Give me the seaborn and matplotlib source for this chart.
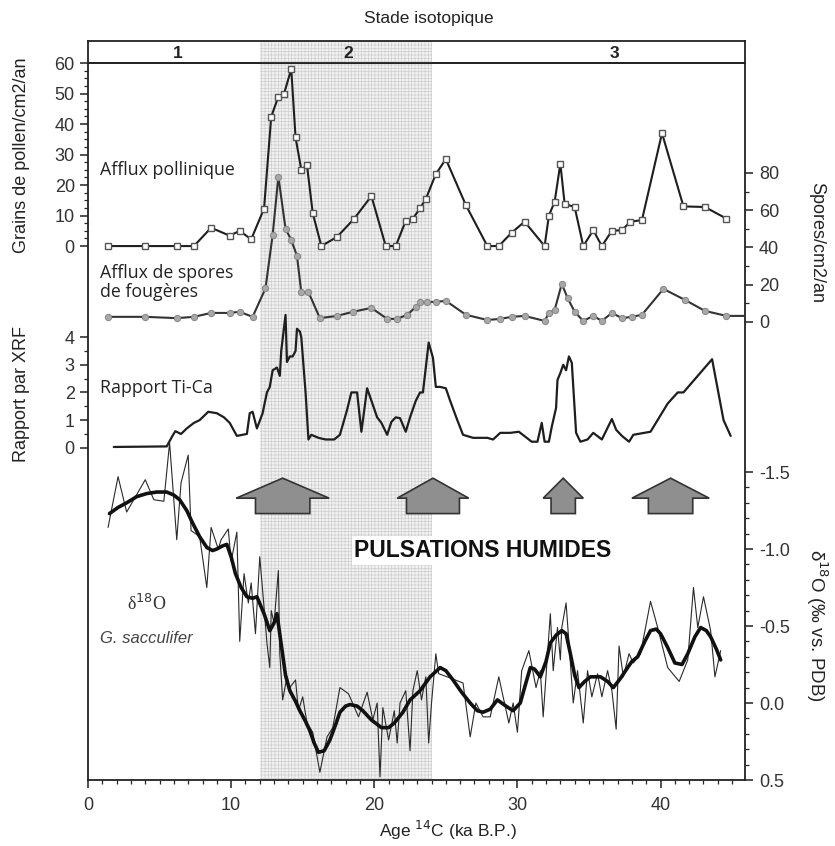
import numpy as np
import matplotlib
matplotlib.use('Agg')
import matplotlib.pyplot as plt
from matplotlib.patches import Polygon
from matplotlib.ticker import FixedLocator
import seaborn as sns

# ---- data ----
pollen_age = [1.4, 4.0, 6.2, 7.4, 8.6, 9.9, 10.6, 11.4, 12.3, 12.8, 13.3, 13.7, 14.2, 14.5,
              14.9, 15.3, 15.7, 16.3, 17.4, 18.6, 19.8, 20.8, 21.5, 22.2, 22.7, 23.2, 23.6,
              24.3, 25.0, 26.4, 27.9, 28.7, 29.6, 30.5, 31.9, 32.2, 32.6, 33.0, 33.3, 34.0,
              34.6, 35.3, 35.9, 36.6, 37.3, 37.9, 38.7, 40.1, 41.6, 43.1, 44.6]
pollen_val = [0, 0, 0, 0, 6, 3.4, 5, 2.2, 12.3, 42.4, 49, 50, 58, 35.6,
              25, 26.5, 10.8, 0, 3, 9, 16.4, 0, 0, 8.3, 9, 12.4, 15.4,
              23.6, 28.5, 13.4, 0, 0, 4.4, 8, 0, 10, 14.5, 27, 13.8, 12.8,
              0, 5.2, 0, 5, 5.2, 8, 8.5, 37, 13, 12.8, 9]

spore_age = [1.4, 4.0, 6.2, 7.4, 8.6, 9.9, 10.6, 11.5, 12.4, 12.9, 13.3, 13.8, 14.2, 14.6,
             14.9, 15.4, 16.2, 17.4, 18.5, 19.8, 20.9, 21.6, 22.3, 22.9, 23.2, 23.7, 24.3,
             25.0, 26.4, 27.9, 28.8, 29.6, 30.5, 31.9, 32.2, 32.6, 33.1, 33.5, 34.0, 34.6,
             35.3, 35.9, 36.6, 37.3, 38.0, 38.7, 40.2, 41.7, 43.1, 44.6]
spore_val = [2.7, 2.7, 2, 2.7, 4.8, 4.8, 5.4, 2.7, 18, 46.7, 78, 50, 44, 35.4,
             16, 16, 2, 3.2, 5.4, 7.5, 1.6, 1.6, 3.8, 8, 10.7, 10.7, 10.7,
             11.3, 3.8, 1, 1.6, 2.7, 3.2, 0.5, 4.8, 6.4, 20.4, 12.9, 5.4, 0.5,
             3.2, 0.5, 4.8, 2, 2.7, 3.8, 17.7, 11.8, 5.9, 3.2]

tica_age = [1.8, 5.5, 5.9, 6.1, 6.5, 6.9, 7.4, 7.8, 8.4, 9.0, 9.5, 9.9, 10.4, 11.1, 11.3,
            11.5, 11.8, 12.2, 12.5, 12.7, 12.9, 13.2, 13.4, 13.5, 13.8, 13.9, 14.1, 14.3,
            14.5, 14.6, 14.8, 14.9, 15.2, 15.4, 15.6, 16.1, 16.6, 17.2, 17.6, 18.1, 18.4,
            18.8, 19.1, 19.5, 19.8, 20.2, 20.5, 20.9, 21.2, 21.5, 21.8, 22.2, 22.5, 22.9,
            23.2, 23.4, 23.8, 24.1, 24.3, 24.6, 25.0, 25.3, 25.8, 26.2, 26.9, 27.9, 28.3,
            28.8, 29.5, 30.1, 31.0, 31.4, 31.7, 31.9, 32.2, 32.4, 32.7, 32.8, 33.0, 33.2,
            33.4, 33.6, 33.8, 34.1, 34.4, 34.9, 35.3, 35.9, 36.6, 36.9, 37.3, 37.8, 38.1,
            39.3, 40.5, 41.2, 41.6, 43.6, 44.4, 44.9]
tica_val = [0.03, 0.05, 0.43, 0.6, 0.5, 0.7, 0.9, 1.0, 1.3, 1.25, 1.1, 0.9, 0.43, 0.5, 1.25,
            1.3, 0.7, 1.25, 2.0, 2.2, 2.8, 2.9, 2.6, 3.5, 4.8, 3.1, 3.3, 3.3,
            3.5, 4.3, 4.2, 4.0, 2.0, 0.3, 0.47, 0.36, 0.3, 0.3, 0.47, 1.37, 2.0,
            2.0, 0.58, 2.15, 1.7, 1.1, 0.9, 0.47, 0.94, 1.1, 1.07, 0.58, 1.1, 1.7,
            2.0, 2.0, 3.8, 3.25, 2.2, 2.2, 2.15, 1.7, 1.0, 0.47, 0.36, 0.36, 0.3,
            0.54, 0.54, 0.58, 0.22, 0.22, 0.9, 0.22, 0.22, 0.76, 1.44, 2.45, 2.7, 3.0,
            2.8, 3.3, 3.07, 0.54, 0.22, 0.3, 0.54, 0.3, 1.04, 0.65, 0.43, 0.22, 0.47,
            0.58, 1.6, 2.0, 2.0, 3.2, 1.0, 0.43]

d18o_age = [1.4, 2.1, 2.7, 4.0, 4.6, 5.3, 5.7, 6.2, 6.5, 7.0, 7.2, 7.8, 8.3, 8.6, 9.1, 9.3,
            9.8, 10.0, 10.4, 10.6, 10.9, 11.2, 11.4, 11.7, 12.0, 12.3, 12.5, 12.7, 12.8,
            13.0, 13.3, 13.4, 13.6, 13.9, 14.1, 14.5, 14.7, 15.0, 15.3, 15.7, 16.2, 16.7,
            17.1, 17.6, 18.2, 18.9, 19.5, 19.9, 20.2, 20.4, 20.6, 21.0, 21.4, 21.6, 21.8,
            22.2, 22.5, 22.7, 23.0, 23.3, 23.6, 23.8, 24.0, 24.3, 24.5, 25.1, 26.2, 26.7,
            27.1, 27.6, 28.1, 28.7, 29.4, 29.7, 30.0, 30.3, 30.8, 31.3, 31.6, 31.8, 32.3,
            32.5, 32.8, 33.0, 33.1, 33.4, 33.6, 33.9, 34.2, 34.6, 34.9, 35.2, 35.6, 35.9,
            36.3, 36.6, 36.9, 37.1, 37.4, 37.8, 38.1, 38.6, 39.3, 39.8, 40.5, 41.3, 41.9,
            42.3, 42.6, 43.0, 43.5, 43.8, 44.2]
d18o_raw = [-1.14, -1.47, -1.24, -1.45, -1.32, -1.31, -1.69, -1.06, -1.43, -1.61, -1.12, -1.08,
            -0.75, -1.14, -1.0, -1.06, -1.13, -0.92, -1.11, -0.40, -0.84, -0.65, -0.78, -0.45,
            -0.95, -0.62, -0.39, -0.23, -0.60, -0.52, -0.86, -0.32, -0.02, -0.17, -0.10, -0.15,
            0.05, -0.04, 0.13, 0.19, 0.45, 0.22, 0.16, -0.10, -0.06, 0.09, -0.07, 0.11, 0.0,
            0.48, 0.03, 0.24, 0.05, 0.26, 0.0, -0.08, 0.31, -0.08, -0.21, -0.02, -0.17, 0.26,
            0.0, -0.32, -0.19, -0.17, -0.13, 0.22, 0.0, 0.09, 0.09, -0.17, 0.13, 0.0, 0.19,
            -0.21, -0.34, -0.10, -0.21, 0.09, -0.58, -0.21, -0.49, -0.28, -0.49, -0.65, -0.39,
            0.0, -0.21, 0.13, -0.21, -0.04, -0.19, -0.04, -0.21, -0.08, 0.17, -0.37, -0.17,
            -0.32, -0.26, -0.32, -0.66, -0.49, -0.23, -0.14, -0.28, -0.75, -0.49, -0.69, -0.47,
            -0.17, -0.34]

smooth_age = [1.5, 2.1, 2.7, 3.4, 4.1, 4.8, 5.5, 6.0, 6.4, 6.9, 7.3, 7.8, 8.3, 8.7, 9.0, 9.4,
              9.7, 10.0, 10.3, 10.7, 11.1, 11.5, 11.8, 12.3, 12.7, 13.0, 13.2, 13.5, 13.8,
              14.1, 14.5, 14.8, 15.2, 15.5, 15.8, 16.1, 16.5, 16.9, 17.3, 17.6, 18.0, 18.3,
              18.8, 19.2, 19.8, 20.5, 21.0, 21.4, 22.0, 22.5, 23.2, 23.9, 24.6, 25.0, 25.5,
              26.1, 26.7, 27.2, 27.6, 28.1, 28.6, 29.2, 29.7, 30.2, 30.5, 30.9, 31.2, 31.6,
              32.0, 32.3, 32.7, 33.1, 33.4, 33.7, 34.0, 34.3, 34.7, 35.1, 35.8, 36.3, 36.7,
              37.2, 37.7, 38.0, 38.4, 38.9, 39.3, 39.7, 40.0, 40.5, 41.0, 41.5, 41.9, 42.4,
              42.8, 43.2, 43.5, 43.9, 44.2]
smooth_val = [-1.23, -1.27, -1.30, -1.34, -1.36, -1.37, -1.37, -1.35, -1.32, -1.25, -1.17,
              -1.08, -1.01, -0.99, -1.0, -1.02, -1.03, -0.95, -0.84, -0.75, -0.69, -0.68,
              -0.69, -0.58, -0.47, -0.52, -0.58, -0.38, -0.18, -0.08, -0.01, 0.05, 0.12,
              0.18, 0.26, 0.32, 0.31, 0.24, 0.14, 0.06, 0.02, 0.01, 0.02, 0.05, 0.11, 0.16,
              0.16, 0.13, 0.06, -0.02, -0.08, -0.17, -0.23, -0.21, -0.15, -0.07, 0.0, 0.05,
              0.06, 0.04, -0.02, 0.02, 0.05, 0.0, -0.10, -0.23, -0.22, -0.17, -0.27, -0.39,
              -0.44, -0.47, -0.45, -0.32, -0.18, -0.10, -0.14, -0.17, -0.17, -0.14, -0.10,
              -0.16, -0.23, -0.27, -0.30, -0.40, -0.47, -0.48, -0.45, -0.36, -0.26, -0.25,
              -0.32, -0.43, -0.49, -0.47, -0.43, -0.35, -0.28]

stage_labels = ['1', '2', '3']
stage_mid = [6.3, 18.2, 36.8]
humid_start, humid_end = 12, 24

# arrows: tip x, head half-width, shaft half-width (ka)
arrows = [(13.6, 3.25, 1.9), (24.1, 2.5, 1.85), (33.2, 1.4, 0.85), (40.7, 2.7, 1.55)]

# ---- figure ----
sns.set_theme(style='ticks')
plt.rcParams['font.family'] = ['Liberation Sans', 'DejaVu Sans']
plt.rcParams['hatch.linewidth'] = 0.5

W, H = 835, 846
fig = plt.figure(figsize=(W / 100, H / 100), dpi=100)
L, R, T, B = 88, 745, 63, 780
ax = fig.add_axes([L / W, 1 - B / H, (R - L) / W, (B - T) / H])
hdr = fig.add_axes([L / W, 1 - T / H, (R - L) / W, (T - 41) / H])

XMAX = 45.9
shade = dict(facecolor='#f1f1f1', hatch='+++++', edgecolor='#cfcfcf', linewidth=0, zorder=0)
ax.axvspan(humid_start, humid_end, **shade)
hdr.axvspan(humid_start, humid_end, **shade)

ax_ti = ax.twinx()
ax_sp = ax.twinx()
ax_d = ax.twinx()
for a in (ax, ax_ti, ax_sp, ax_d, hdr):
    a.set_xlim(0, XMAX)
    a.patch.set_visible(False)
for a in (ax_ti, ax_sp, ax_d):
    for s in a.spines.values():
        s.set_visible(False)
for s in ax.spines.values():
    s.set_linewidth(1.3)
    s.set_color('#222222')

ink = '#1e1e1e'
# pollen
sns.lineplot(x=pollen_age, y=pollen_val, ax=ax, sort=False, color=ink, lw=1.5, marker='s',
             markersize=4.5, markerfacecolor='white', markeredgecolor='#555555', markeredgewidth=1)
ax.set_ylim(-175, 60)
# spores
sns.lineplot(x=spore_age + [XMAX], y=spore_val + [spore_val[-1]], ax=ax_sp, sort=False, color='#333333',
             lw=1.5, marker='o', markersize=4.5, markerfacecolor='#a8a8a8', markeredgecolor='#888888',
             markevery=list(range(len(spore_age))))
ax_sp.set_ylim(-246, 139)
# Ti-Ca
sns.lineplot(x=tica_age, y=tica_val, ax=ax_ti, sort=False, color=ink, lw=1.6)
ax_ti.set_ylim(-12, 13.9)
# d18O
sns.lineplot(x=d18o_age, y=d18o_raw, ax=ax_d, sort=False, color='#2a2a2a', lw=0.8)
sns.lineplot(x=smooth_age, y=smooth_val, ax=ax_d, sort=False, color='#111111', lw=2.6)
ax_d.set_ylim(0.5, -4.156)
for a in (ax, ax_ti, ax_sp, ax_d):
    a.set_xlabel('')
    a.set_ylabel('')

# arrows
y_tip, y_head, y_bot = -1.46, -1.33, -1.23
for xc, hw, sw in arrows:
    pts = [(xc, y_tip), (xc + hw, y_head), (xc + sw, y_head), (xc + sw, y_bot),
           (xc - sw, y_bot), (xc - sw, y_head), (xc - hw, y_head)]
    ax_d.add_patch(Polygon(pts, closed=True, facecolor='#8f8f8f', edgecolor='#333333', lw=1.2, zorder=5))

# ticks
tick_kw = dict(labelsize=13, colors='#222222', labelcolor='#333333')
ax.set_yticks([0, 10, 20, 30, 40, 50, 60])
ax.yaxis.set_minor_locator(FixedLocator(np.arange(0, 61, 2.5)))
ax.tick_params(axis='y', which='major', length=6, width=1.1, **tick_kw)
ax.tick_params(axis='y', which='minor', length=3, width=0.9)

ax_ti.yaxis.tick_left()
ax_ti.set_yticks([0, 1, 2, 3, 4])
ax_ti.yaxis.set_minor_locator(FixedLocator(np.arange(0, 4.01, 0.5)))
ax_ti.tick_params(axis='y', which='major', length=6, width=1.1, **tick_kw)
ax_ti.tick_params(axis='y', which='minor', length=3, width=0.9)

ax_sp.set_yticks([0, 20, 40, 60, 80])
ax_sp.yaxis.set_minor_locator(FixedLocator(np.arange(0, 81, 10)))
ax_sp.tick_params(axis='y', which='major', length=6, width=1.1, pad=4, **tick_kw)
ax_sp.tick_params(axis='y', which='minor', length=3, width=0.9)

ax_d.set_yticks([-1.5, -1.0, -0.5, 0.0, 0.5])
ax_d.set_yticklabels(['-1.5', '-1.0', '-0.5', '0.0', '0.5'])
ax_d.yaxis.set_minor_locator(FixedLocator(np.arange(-1.5, 0.51, 0.1)))
ax_d.tick_params(axis='y', which='major', length=6, width=1.1, pad=4, **tick_kw)
ax_d.tick_params(axis='y', which='minor', length=3, width=0.9)

ax.set_xticks([0, 10, 20, 30, 40])
ax.xaxis.set_minor_locator(FixedLocator(np.arange(0, 46, 1)))
ax.tick_params(axis='x', which='major', length=6, width=1.1, pad=6, **tick_kw)
ax.tick_params(axis='x', which='minor', length=3, width=0.9)
for a in (ax_ti, ax_sp, ax_d):
    a.tick_params(axis='x', which='both', bottom=False, labelbottom=False)

# header
hdr.set_ylim(0, 1)
hdr.set_xticks([])
hdr.set_yticks([])
for s in hdr.spines.values():
    s.set_linewidth(1.3)
    s.set_color('#222222')
for lab, xm in zip(stage_labels, stage_mid):
    hdr.text(xm, 0.45, lab, ha='center', va='center', fontsize=12.5, fontweight='bold', color='#222222')
fig.text(429 / W, 1 - 19 / H, 'Stade isotopique', ha='center', va='center', fontsize=12.5, color='#222222')

# series annotations
lab_font = ['Open Sans', 'DejaVu Sans']
ax.text(0.85, 25, 'Afflux pollinique', fontsize=12.8, family=lab_font, va='center', color='#222222')
ax_sp.text(0.85, 21, 'Afflux de spores\nde fougères', fontsize=12.8, family=lab_font, va='center',
           linespacing=1.1, color='#222222')
ax_ti.text(0.85, 2.17, 'Rapport Ti-Ca', fontsize=12.8, family=lab_font, va='center', color='#222222')
ax_d.text(4.1, -0.64, 'δ$^{18}$O', fontsize=13, family=['Liberation Serif'], ha='center',
          va='center', color='#333333')
ax_d.text(0.85, -0.42, 'G. sacculifer', fontsize=12, style='italic', va='center', color='#444444')
ax_d.text(27.6, -0.99, 'PULSATIONS HUMIDES', fontsize=16.5, fontweight='bold', ha='center',
          va='center', color='#111111', zorder=6,
          bbox=dict(facecolor='white', edgecolor='none', pad=2))

# axis labels
fig.text(22 / W, 1 - 155 / H, 'Grains de pollen/cm2/an', rotation=90, ha='center', va='center',
         fontsize=13, color='#222222')
fig.text(22 / W, 1 - 394 / H, 'Rapport par XRF', rotation=90, ha='center', va='center',
         fontsize=13, color='#222222')
fig.text(817 / W, 1 - 243 / H, 'Spores/cm2/an', rotation=270, ha='center', va='center',
         fontsize=13, color='#222222')
fig.text(817 / W, 1 - 625 / H, 'δ$^{18}$O (‰ vs. PDB)', rotation=270, ha='center',
         va='center', fontsize=13.5, color='#222222')
fig.text(448 / W, 1 - 830 / H, r'Age $^{14}$C (ka B.P.)', ha='center', va='center',
         fontsize=12.5, color='#222222')

fig.savefig('out.png', dpi=100, facecolor='white')
